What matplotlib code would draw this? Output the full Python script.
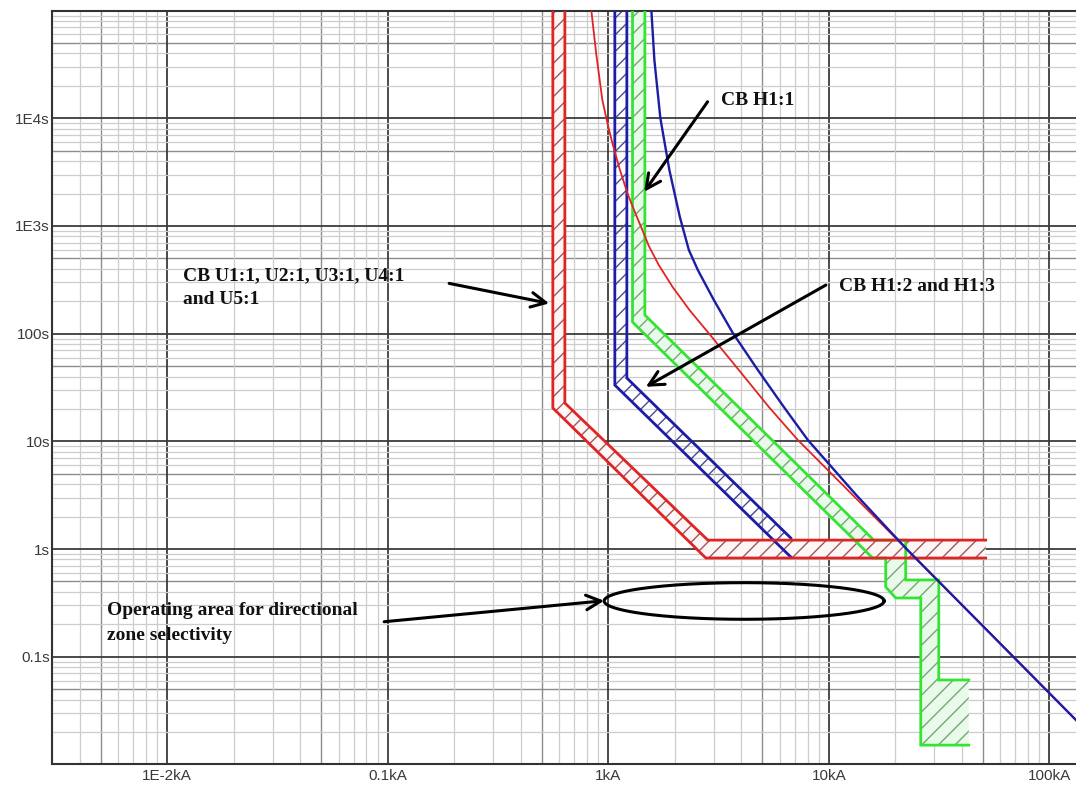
import matplotlib
matplotlib.use("Agg")
import matplotlib.pyplot as plt
import numpy as np
from matplotlib.ticker import FixedLocator, LogLocator, NullFormatter

# current in kA, time in s

# CB U1:1 .. U5:1 band
u_hi_I = [0.635, 0.635, 2.825, 51.4]
u_hi_t = [1e5, 22.7, 1.21, 1.21]
u_lo_I = [0.560, 0.560, 2.767, 51.4]
u_lo_t = [1e5, 20.4, 0.825, 0.825]

# CB H1:2 and H1:3 band
h2_hi_I = [1.213, 1.213, 6.72]
h2_hi_t = [1e5, 38.7, 1.265]
h2_lo_I = [1.07, 1.07, 6.72]
h2_lo_t = [1e5, 33.3, 0.843]

# CB H1:1 band
h1_hi_I = [1.464, 1.464, 15.98, 22.3, 22.3, 31.5, 31.5, 43.1]
h1_hi_t = [1e5, 148.9, 1.21, 1.21, 0.516, 0.516, 0.0608, 0.0608]
h1_lo_I = [1.287, 1.287, 15.8, 18.1, 18.1, 20.1, 26.1, 26.1, 43.1]
h1_lo_t = [1e5, 128, 0.825, 0.825, 0.444, 0.351, 0.351, 0.0151, 0.0151]

# thin red curve
red_I = [0.8374, 0.8822, 0.9393, 0.9948, 1.0427, 1.1217, 1.2195, 1.3189, 1.4266, 1.5264,
         1.6929, 1.9566, 2.3333, 2.8476, 3.9066, 5.3445, 7.235, 20.49, 22.74, 133.3]
red_t = [1e5, 38630, 14760, 8647, 5887, 3449, 2021, 1346, 916, 650.7,
         433.5, 270.8, 165.6, 101.3, 45.92, 20.82, 10.28, 1.212, 0.979, 0.0253]

# thin blue curve
blue_I = [1.567, 1.617, 1.721, 1.891, 2.110, 2.318, 2.546, 3.009, 3.669, 4.764,
          6.251, 8.031, 13.31, 22.74, 133.3]
blue_t = [1e5, 34710, 10040, 3304, 1209, 597.4, 389.4, 205.1, 101.3, 45.92,
          20.82, 10.28, 3.172, 0.979, 0.0253]

# operating area ellipse extent
ell_I = [0.957, 17.8]
ell_t = [0.2226, 0.487]

x_ticks = [0.01, 0.1, 1, 10, 100]
x_labels = ['1E-2kA', '0.1kA', '1kA', '10kA', '100kA']
y_ticks = [0.1, 1, 10, 100, 1000, 10000]
y_labels = ['0.1s', '1s', '10s', '100s', '1E3s', '1E4s']

RED = '#e02424'
BLUE = '#1c1ca6'
GREEN = '#33e433'

plt.rcParams['hatch.linewidth'] = 1.0

fig = plt.figure(figsize=(10.76, 7.85), dpi=100)
ax = fig.add_axes([52 / 1076, 1 - 764.4 / 785, 1 - 52 / 1076, 753.8 / 785])
ax.set_xscale('log')
ax.set_yscale('log')
ax.set_xlim(0.003, 132)
ax.set_ylim(0.01, 1e5)

# grid
ax.xaxis.set_major_locator(FixedLocator([1e-3, 1e-2, 0.1, 1, 10, 100]))
ax.yaxis.set_major_locator(FixedLocator([0.01, 0.1, 1, 10, 100, 1e3, 1e4, 1e5]))
ax.xaxis.set_minor_locator(LogLocator(base=10, subs=(2, 3, 4, 6, 7, 8, 9), numticks=20))
ax.yaxis.set_minor_locator(LogLocator(base=10, subs=(2, 3, 4, 6, 7, 8, 9), numticks=20))
ax.xaxis.set_minor_formatter(NullFormatter())
ax.yaxis.set_minor_formatter(NullFormatter())
ax.set_axisbelow(True)
ax.grid(which='major', color='#3c3c3c', lw=1.3)
ax.grid(which='minor', color='#cdcdcd', lw=0.9)
for k in range(-3, 3):
    ax.axvline(5 * 10.0 ** k, color='#8c8c8c', lw=1.0, zorder=0.5)
for k in range(-2, 5):
    ax.axhline(5 * 10.0 ** k, color='#8c8c8c', lw=1.0, zorder=0.5)

ax.set_xticks(x_ticks)
ax.set_xticklabels(x_labels)
ax.set_yticks(y_ticks)
ax.set_yticklabels(y_labels)
ax.tick_params(which='both', length=0, labelsize=11, labelcolor='#3a3a3a')
ax.tick_params(axis='y', pad=1.5)
ax.tick_params(axis='x', pad=3)
for lab in ax.get_xticklabels() + ax.get_yticklabels():
    lab.set_family(['Liberation Sans', 'DejaVu Sans'])

for s in ['left', 'bottom', 'top']:
    ax.spines[s].set_color('#333333')
    ax.spines[s].set_linewidth(1.5)
ax.spines['right'].set_visible(False)


def band(hi_I, hi_t, lo_I, lo_t, col, hcol, face):
    ax.fill(np.r_[hi_I, lo_I[::-1]], np.r_[hi_t, lo_t[::-1]],
            facecolor=face, edgecolor=hcol, hatch='//', linewidth=0, zorder=2)
    ax.plot(hi_I, hi_t, color=col, lw=2.0, zorder=3, solid_joinstyle='miter')
    ax.plot(lo_I, lo_t, color=col, lw=2.0, zorder=3, solid_joinstyle='miter')


band(h1_hi_I, h1_hi_t, h1_lo_I, h1_lo_t, GREEN, '#74a874', '#eafaea')
band(h2_hi_I, h2_hi_t, h2_lo_I, h2_lo_t, BLUE, '#4a4a98', 'none')
band(u_hi_I, u_hi_t, u_lo_I, u_lo_t, RED, '#a05858', '#fdf6f6')

ax.plot(red_I, red_t, color=RED, lw=1.3, zorder=4)
ax.plot(blue_I, blue_t, color=BLUE, lw=1.7, zorder=4)

# ellipse in log space
th = np.linspace(0, 2 * np.pi, 300)
lx = np.log10(ell_I)
ly = np.log10(ell_t)
ax.plot(10 ** (lx.mean() + (lx[1] - lx[0]) / 2 * np.cos(th)),
        10 ** (ly.mean() + (ly[1] - ly[0]) / 2 * np.sin(th)),
        color='black', lw=2.2, zorder=5)

tfont = dict(family=['Liberation Serif', 'DejaVu Serif'], weight='bold', size=14,
             color='#111111', zorder=6)
aprops = dict(arrowstyle='->,head_length=0.7,head_width=0.35', color='black',
              lw=2.2, mutation_scale=15, shrinkA=0, shrinkB=0)

ax.text(3.237, 14760, 'CB H1:1', va='center', ha='left', **tfont)
ax.annotate('', xy=(1.454, 2077), xytext=(2.818, 14230), arrowprops=aprops, zorder=6)

ax.text(0.01172, 268, 'CB U1:1, U2:1, U3:1, U4:1\nand U5:1', va='center', ha='left',
        linespacing=1.55, **tfont)
ax.annotate('', xy=(0.5388, 191), xytext=(0.1897, 293), arrowprops=aprops, zorder=6)

ax.text(11.13, 272.6, 'CB H1:2 and H1:3', va='center', ha='left', **tfont)
ax.annotate('', xy=(1.479, 32.1), xytext=(9.69, 282.7), arrowprops=aprops, zorder=6)

ax.text(0.005355, 0.2055, 'Operating area for directional\nzone selectivity', va='center',
        ha='left', linespacing=1.55, **tfont)
ax.annotate('', xy=(0.957, 0.331), xytext=(0.0962, 0.2113), arrowprops=aprops, zorder=6)

fig.savefig('out.png', dpi=100)
